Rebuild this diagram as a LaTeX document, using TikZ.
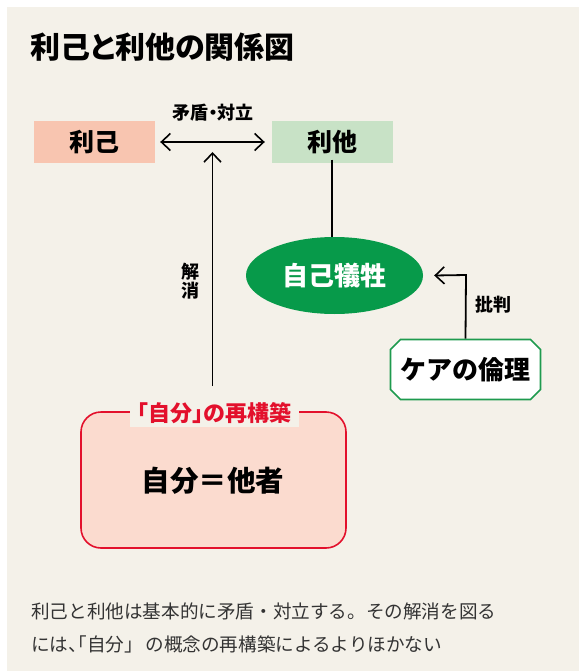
\documentclass[tikz,border=0pt]{standalone}
\usepackage{fontspec}
\newfontfamily\jp{Noto Sans CJK JP}
\newfontfamily\jpp[RawFeature=+palt]{Noto Sans CJK JP}
\newfontfamily\jph[RawFeature=+halt]{Noto Sans CJK JP}
\usetikzlibrary{arrows.meta,shapes.geometric,shapes.misc}
\definecolor{bg}{HTML}{F4F1E9}
\definecolor{rikofill}{HTML}{F8C5B0}
\definecolor{ritafill}{HTML}{C8E2C6}
\definecolor{sgreen}{HTML}{079A4A}
\definecolor{cgreen}{HTML}{1E9A4E}
\definecolor{rred}{HTML}{E3102C}
\definecolor{rpink}{HTML}{FBDBCF}
\definecolor{captxt}{HTML}{333333}
\tikzset{
  every node/.style={font=\jp},
  conn/.style={line width=1.8pt, black},
  barb/.tip={Straight Barb[length=9pt,width=17pt,line width=1.6pt]},
  tip/.style={-barb},
  tipboth/.style={barb-barb},
  lbl/.style={font=\jp\bfseries\fontsize{18}{21}\selectfont, text=black},
  word/.style={minimum width=121pt, minimum height=42pt, inner sep=0pt, font=\jp\bfseries\fontsize{25}{28}\selectfont},
  captext/.style={anchor=base west, inner sep=0pt, text=captxt}
}
\begin{document}
\begin{tikzpicture}[x=1pt,y=-1pt]
\useasboundingbox (0,0) rectangle (579,671);
\fill[bg] (7,7) rectangle (579,671);
% title
\node[anchor=west, font=\jpp\bfseries\fontsize{30}{34}\selectfont, inner sep=0pt] (title) at (30,47) {利己と利他の関係図};
% top boxes
\node[word, fill=rikofill] (riko) at (94.5,142) {利己};
\node[word, fill=ritafill] (rita) at (332.2,142) {利他};
\node[font=\jpp\bfseries\fontsize{18}{21}\selectfont] (mujun) at (213,112.5) {矛盾・対立};
\draw[conn, tipboth] ([xshift=5pt]riko.east) -- ([xshift=-6.7pt]rita.west);
% self sacrifice
\node[ellipse, fill=sgreen, minimum width=177pt, minimum height=77pt, inner sep=0pt, text=white, font=\jp\bfseries\fontsize{26}{30}\selectfont] (gisei) at (334.5,275.5) {自己犠牲};
\draw[conn] ([yshift=3.5pt]rita.south) -- (rita.south |- gisei.north);
% care ethics
\node[chamfered rectangle, chamfered rectangle corners={north west,north east,south west,south east}, chamfered rectangle xsep=5pt, chamfered rectangle ysep=5pt, draw=cgreen, line width=1.6pt, fill=white, minimum width=150pt, minimum height=60pt, inner sep=0pt, font=\jp\bfseries\fontsize{26}{30}\selectfont] (care) at (465.5,369.5) {ケアの倫理};
\coordinate (crit) at (466,275);
\draw[conn, tip] (care.north) -- (crit) -- ([xshift=11pt]gisei.east);
\node[lbl, anchor=west] (hihan) at (472,304.5) {批判};
% reconstruction box
\draw[rred, line width=1.6pt, fill=rpink, rounded corners=20pt] (81,412) rectangle (346,548);
\node[fill=bg, inner xsep=8pt, inner ysep=3pt, text=rred, font=\jpp\bfseries\fontsize{22}{25}\selectfont] (recon) at (214.5,413) {「自分」の再構築};
\node[font=\jp\bfseries\fontsize{28.5}{32}\selectfont] (jibun) at (213,480.5) {自分＝他者};
% resolution arrow
\coordinate (kaiend) at (212.5,152);
\draw[conn, tip] (212.5,386) -- (kaiend);
\node[align=center, inner sep=0pt, font=\jp\bfseries\fontsize{18}{19}\selectfont] (kaisho) at (190.5,281) {解\\消};
% caption
\node[captext, font=\jp\fontsize{18.6}{22}\selectfont] (cap1) at (31,618) {利己と利他は基本的に矛盾・対立する。その解消を図る};
\node[captext, font=\jph\fontsize{18.6}{22}\selectfont] (cap2) at (31,651) {には、「自分」\hspace{12pt}の概念の再構築によるよりほかない};
\end{tikzpicture}
\end{document}
